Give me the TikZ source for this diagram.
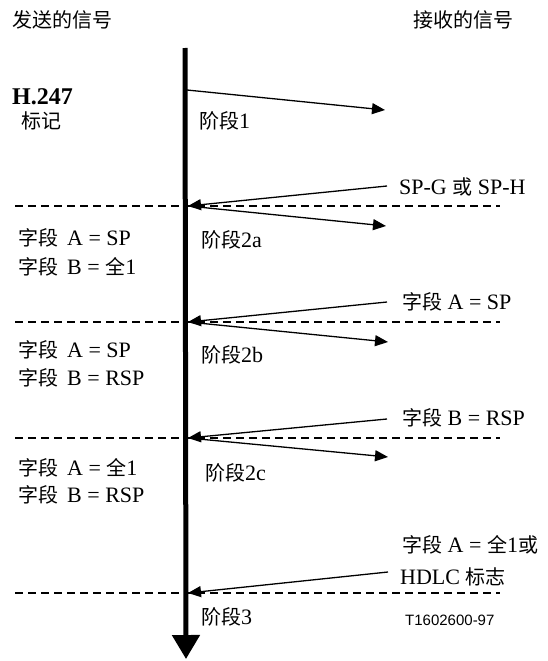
\documentclass[tikz,border=0pt]{standalone}
\usepackage{fontspec}
\setmainfont{Liberation Serif}
\newfontfamily\cjk{Noto Sans CJK SC}
\newfontfamily\arialf{Liberation Sans}
\newcommand\zhs[1]{{\cjk\fontsize{20}{23}\selectfont #1}}
\usetikzlibrary{arrows.meta}
\begin{document}
\begin{tikzpicture}[x=1pt,y=-1pt,
  txt/.style={anchor=west,inner sep=0pt,font=\fontsize{22}{24}\selectfont},
  head/.style={anchor=west,inner sep=0pt,font=\fontsize{20}{24}\selectfont},
  sig/.style={line width=1.3pt,-{Triangle[length=13pt,width=11pt]}},
  divider/.style={line width=1.4pt,dash pattern=on 8pt off 5pt},
  axis/.style={line width=5pt,-{Triangle[length=24pt,width=27pt]}}]
\useasboundingbox (0,0) rectangle (547,661);
% headings
\node[head] (hl) at (12,20) {\cjk 发送的信号};
\node[head] (hr) at (413,20) {\cjk 接收的信号};
% time axis
\coordinate (top) at (185,48);
\coordinate (bot) at (186,659);
\draw[axis] (top) -- (bot);
% junction coordinates on axis
\coordinate (j0) at (187,90);
\coordinate (j1) at (188,206);
\coordinate (j2) at (188,322);
\coordinate (j3) at (188,438);
\coordinate (j4) at (188,593);
% free ends
\coordinate (o1) at (385,110);
\coordinate (o2) at (386,226);
\coordinate (o3) at (388,342);
\coordinate (o4) at (388,457);
\coordinate (i1) at (387,186);
\coordinate (i2) at (387,302);
\coordinate (i3) at (387,419);
\coordinate (i4) at (388,572);
% dashed dividers
\coordinate (d1l) at (15,206); \coordinate (d1r) at (500,206);
\coordinate (d2l) at (15,322); \coordinate (d2r) at (500,322);
\coordinate (d3l) at (15,438); \coordinate (d3r) at (500,438);
\coordinate (d4l) at (15,593); \coordinate (d4r) at (500,593);
\draw[divider] (d1l) -- (d1r);
\draw[divider] (d2l) -- (d2r);
\draw[divider] (d3l) -- (d3r);
\draw[divider] (d4l) -- (d4r);
% signals
\draw[sig] (j0) -- (o1);
\draw[sig] (i1) -- (j1);
\draw[sig] (j1) -- (o2);
\draw[sig] (i2) -- (j2);
\draw[sig] (j2) -- (o3);
\draw[sig] (i3) -- (j3);
\draw[sig] (j3) -- (o4);
\draw[sig] (i4) -- (j4);
% left labels
\node[anchor=west,inner sep=0pt,font=\fontsize{24}{26}\selectfont\bfseries] (h247) at (12,97) {H.247};
\node[txt] (mark) at (21,121) {\zhs{标记}};
\node[txt] (l1a) at (18,238) {\zhs{字段}\hspace{9pt}A = SP};
\node[txt] (l1b) at (18,267) {\zhs{字段}\hspace{9pt}B = \zhs{全}1};
\node[txt] (l2a) at (18,350) {\zhs{字段}\hspace{9pt}A = SP};
\node[txt] (l2b) at (18,378) {\zhs{字段}\hspace{9pt}B = RSP};
\node[txt] (l3a) at (18,468) {\zhs{字段}\hspace{9pt}A = \zhs{全}1};
\node[txt] (l3b) at (18,495) {\zhs{字段}\hspace{9pt}B = RSP};
% phase labels
\node[txt] (p1) at (199,121) {\zhs{阶段}1};
\node[txt] (p2a) at (201,240) {\zhs{阶段}2a};
\node[txt] (p2b) at (201,355) {\zhs{阶段}2b};
\node[txt] (p2c) at (205,473) {\zhs{阶段}2c};
\node[txt] (p3) at (201,617) {\zhs{阶段}3};
% right labels
\node[txt] (r1) at (399,187) {SP-G \zhs{或} SP-H};
\node[txt] (r2) at (402,302) {\zhs{字段} A = SP};
\node[txt] (r3) at (402,418) {\zhs{字段} B = RSP};
\node[txt] (r4a) at (402,545) {\zhs{字段} A = \zhs{全}1\zhs{或}};
\node[txt] (r4b) at (400,577) {HDLC \zhs{标志}};
\node[anchor=west,inner sep=0pt,font=\arialf\fontsize{15}{18}\selectfont] (code) at (405,620) {T1602600-97};
\end{tikzpicture}
\end{document}
